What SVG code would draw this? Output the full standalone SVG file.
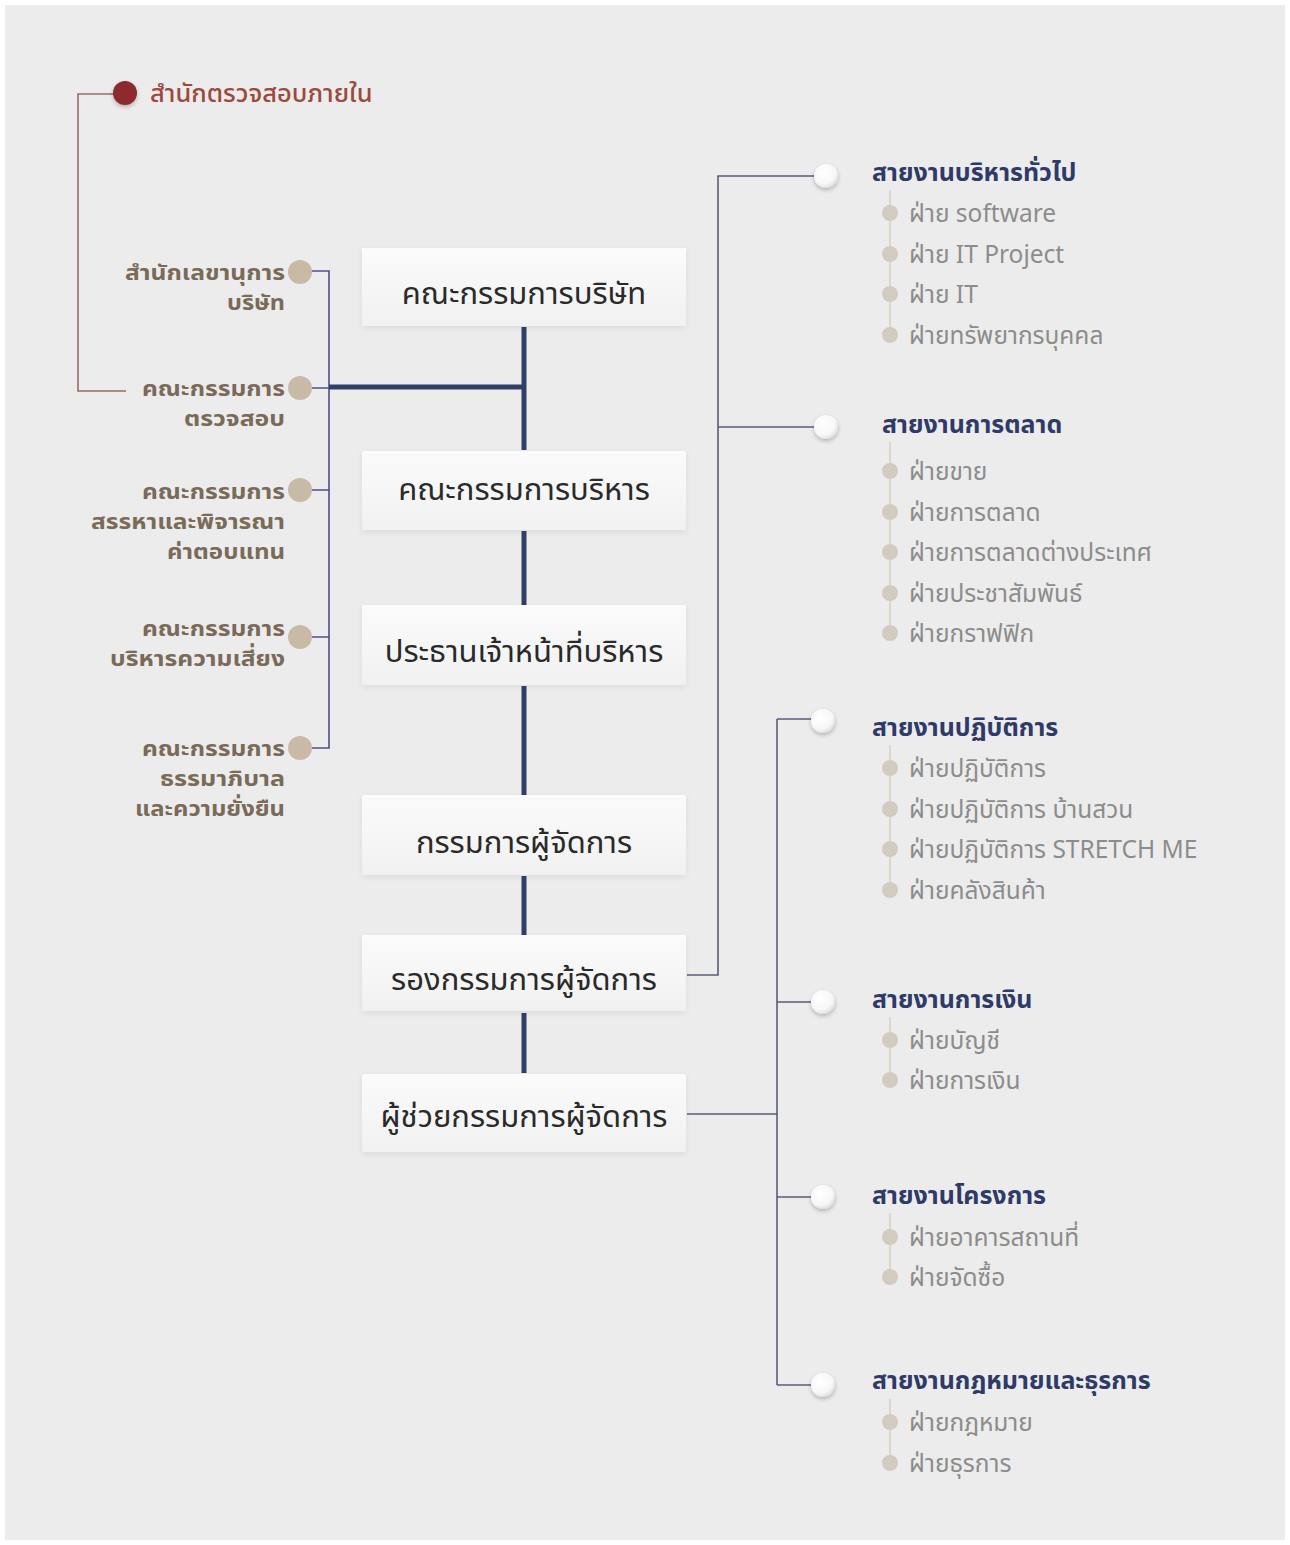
<svg xmlns="http://www.w3.org/2000/svg" width="1290" height="1545" viewBox="0 0 1290 1545">
<defs>
<linearGradient id="boxg" x1="0" y1="0" x2="0" y2="1">
<stop offset="0" stop-color="#fbfbfb"/>
<stop offset="1" stop-color="#f1f1f1"/>
</linearGradient>
<radialGradient id="wcirc" cx="0.4" cy="0.35" r="0.7">
<stop offset="0" stop-color="#ffffff"/>
<stop offset="0.7" stop-color="#f7f7f7"/>
<stop offset="1" stop-color="#d9d9d9"/>
</radialGradient>
<filter id="sh" x="-30%" y="-30%" width="160%" height="170%">
<feGaussianBlur in="SourceAlpha" stdDeviation="2"/>
<feOffset dx="0" dy="2" result="o"/>
<feComponentTransfer><feFuncA type="linear" slope="0.25"/></feComponentTransfer>
<feMerge><feMergeNode/><feMergeNode in="SourceGraphic"/></feMerge>
</filter>
<filter id="bsh" x="-5%" y="-10%" width="110%" height="125%">
<feGaussianBlur in="SourceAlpha" stdDeviation="3"/>
<feOffset dx="0" dy="2" result="o"/>
<feComponentTransfer><feFuncA type="linear" slope="0.08"/></feComponentTransfer>
<feMerge><feMergeNode/><feMergeNode in="SourceGraphic"/></feMerge>
</filter>
</defs>
<style>
text{font-family:"Noto Sans Thai","Noto Sans","DejaVu Sans",sans-serif;}
.box{fill:url(#boxg);filter:url(#bsh);}
.bt{font-size:31px;fill:#2a2a2a;text-anchor:middle;}
.spine{stroke:#2e4068;stroke-width:5;fill:none;}
.thin{stroke:#5a5c78;stroke-width:1.6;fill:none;}
.left{stroke:#4e4f88;stroke-width:1.6;fill:none;}
.red{stroke:#9b6a66;stroke-width:1.6;fill:none;}
.lt{font-size:22px;fill:#7a6a58;text-anchor:end;font-weight:700;}
.tan{fill:#c8baa7;}
.wc{fill:url(#wcirc);filter:url(#sh);}
.hd{font-size:25px;fill:#2f3a68;font-weight:700;}
.sub{font-size:24.5px;fill:#8c8c8c;}
.bul{fill:#d2ccc0;}
.vl{stroke:#ddd6ca;stroke-width:2;fill:none;}
</style>
<rect width="1290" height="1545" fill="#ffffff"/>
<rect x="5" y="5" width="1280" height="1535" fill="#ececec"/>

<g id="connectors">
<path class="red" d="M125 94 H78 V391 H126"/>
<path class="left" d="M312 271 H329 V748 H312 M312 388 H329 M312 490 H329 M312 637 H329"/>
<path class="spine" d="M329 387 H524"/>
<path class="spine" d="M524 327 V450 M524 531 V605 M524 686 V795 M524 876 V935 M524 1013 V1073"/>
<path class="thin" d="M687 975 H718 V176 H815 M718 427 H815"/>
<path class="thin" d="M687 1114 H777 M777 719 V1385 M777 719 H812 M777 1002 H812 M777 1197 H812 M777 1385 H812"/>
</g>

<g id="n-internal-audit">
<circle cx="125" cy="93" r="12" fill="#8c2a2f" filter="url(#sh)"/>
<text x="150" y="102" font-size="25.5" fill="#9c4a3f" font-weight="500">สำนักตรวจสอบภายใน</text>
</g>

<g id="n-secretary">
<circle class="tan" cx="300" cy="272" r="12"/>
<text class="lt" x="285" y="280" textLength="160" lengthAdjust="spacingAndGlyphs">สำนักเลขานุการ</text>
<text class="lt" x="285" y="310" textLength="58" lengthAdjust="spacingAndGlyphs">บริษัท</text>
</g>
<g id="n-audit-committee">
<circle class="tan" cx="300" cy="388" r="12"/>
<text class="lt" x="285" y="396" textLength="143" lengthAdjust="spacingAndGlyphs">คณะกรรมการ</text>
<text class="lt" x="285" y="426" textLength="101" lengthAdjust="spacingAndGlyphs">ตรวจสอบ</text>
</g>
<g id="n-nomination">
<circle class="tan" cx="300" cy="490" r="12"/>
<text class="lt" x="285" y="499" textLength="143" lengthAdjust="spacingAndGlyphs">คณะกรรมการ</text>
<text class="lt" x="285" y="529" textLength="194" lengthAdjust="spacingAndGlyphs">สรรหาและพิจารณา</text>
<text class="lt" x="285" y="559" textLength="118" lengthAdjust="spacingAndGlyphs">ค่าตอบแทน</text>
</g>
<g id="n-risk">
<circle class="tan" cx="300" cy="637" r="12"/>
<text class="lt" x="285" y="636" textLength="143" lengthAdjust="spacingAndGlyphs">คณะกรรมการ</text>
<text class="lt" x="285" y="666" textLength="175" lengthAdjust="spacingAndGlyphs">บริหารความเสี่ยง</text>
</g>
<g id="n-governance">
<circle class="tan" cx="300" cy="748" r="12"/>
<text class="lt" x="285" y="756" textLength="143" lengthAdjust="spacingAndGlyphs">คณะกรรมการ</text>
<text class="lt" x="285" y="786" textLength="125" lengthAdjust="spacingAndGlyphs">ธรรมาภิบาล</text>
<text class="lt" x="285" y="816" textLength="150" lengthAdjust="spacingAndGlyphs">และความยั่งยืน</text>
</g>

<g id="n-board">
<rect class="box" x="362" y="248" width="324" height="78"/>
<text class="bt" x="524" y="304">คณะกรรมการบริษัท</text>
</g>
<g id="n-exec-committee">
<rect class="box" x="362" y="451" width="324" height="79"/>
<text class="bt" x="524" y="500">คณะกรรมการบริหาร</text>
</g>
<g id="n-ceo">
<rect class="box" x="362" y="605" width="324" height="80"/>
<text class="bt" x="524" y="662">ประธานเจ้าหน้าที่บริหาร</text>
</g>
<g id="n-md">
<rect class="box" x="362" y="795" width="324" height="80"/>
<text class="bt" x="524" y="853">กรรมการผู้จัดการ</text>
</g>
<g id="n-deputy-md">
<rect class="box" x="362" y="935" width="324" height="76"/>
<text class="bt" x="524" y="990">รองกรรมการผู้จัดการ</text>
</g>
<g id="n-assistant-md">
<rect class="box" x="362" y="1074" width="324" height="78"/>
<text class="bt" x="524" y="1127">ผู้ช่วยกรรมการผู้จัดการ</text>
</g>

<g id="n-general-admin">
<circle class="wc" cx="826" cy="176" r="12"/>
<text class="hd" x="872" y="181">สายงานบริหารทั่วไป</text>
<path class="vl" d="M890 190 V335"/>
<circle class="bul" cx="890" cy="213" r="8"/><text class="sub" x="909" y="222">ฝ่าย software</text>
<circle class="bul" cx="890" cy="254" r="8"/><text class="sub" x="909" y="263">ฝ่าย IT Project</text>
<circle class="bul" cx="890" cy="294" r="8"/><text class="sub" x="909" y="303">ฝ่าย IT</text>
<circle class="bul" cx="890" cy="335" r="8"/><text class="sub" x="909" y="344">ฝ่ายทรัพยากรบุคคล</text>
</g>

<g id="n-marketing">
<circle class="wc" cx="826" cy="427" r="12"/>
<text class="hd" x="882" y="433">สายงานการตลาด</text>
<path class="vl" d="M890 442 V633"/>
<circle class="bul" cx="890" cy="471" r="8"/><text class="sub" x="909" y="480">ฝ่ายขาย</text>
<circle class="bul" cx="890" cy="512" r="8"/><text class="sub" x="909" y="521">ฝ่ายการตลาด</text>
<circle class="bul" cx="890" cy="552" r="8"/><text class="sub" x="909" y="561">ฝ่ายการตลาดต่างประเทศ</text>
<circle class="bul" cx="890" cy="593" r="8"/><text class="sub" x="909" y="602">ฝ่ายประชาสัมพันธ์</text>
<circle class="bul" cx="890" cy="633" r="8"/><text class="sub" x="909" y="642">ฝ่ายกราฟฟิก</text>
</g>

<g id="n-operations">
<circle class="wc" cx="823" cy="721" r="12"/>
<text class="hd" x="872" y="736">สายงานปฏิบัติการ</text>
<path class="vl" d="M890 745 V890"/>
<circle class="bul" cx="890" cy="768" r="8"/><text class="sub" x="909" y="777">ฝ่ายปฏิบัติการ</text>
<circle class="bul" cx="890" cy="809" r="8"/><text class="sub" x="909" y="818">ฝ่ายปฏิบัติการ บ้านสวน</text>
<circle class="bul" cx="890" cy="849" r="8"/><text class="sub" x="909" y="858">ฝ่ายปฏิบัติการ STRETCH ME</text>
<circle class="bul" cx="890" cy="890" r="8"/><text class="sub" x="909" y="899">ฝ่ายคลังสินค้า</text>
</g>

<g id="n-finance">
<circle class="wc" cx="823" cy="1002" r="12"/>
<text class="hd" x="872" y="1008">สายงานการเงิน</text>
<path class="vl" d="M890 1017 V1080"/>
<circle class="bul" cx="890" cy="1040" r="8"/><text class="sub" x="909" y="1049">ฝ่ายบัญชี</text>
<circle class="bul" cx="890" cy="1080" r="8"/><text class="sub" x="909" y="1089">ฝ่ายการเงิน</text>
</g>

<g id="n-projects">
<circle class="wc" cx="823" cy="1197" r="12"/>
<text class="hd" x="872" y="1204">สายงานโครงการ</text>
<path class="vl" d="M890 1213 V1277"/>
<circle class="bul" cx="890" cy="1237" r="8"/><text class="sub" x="909" y="1246">ฝ่ายอาคารสถานที่</text>
<circle class="bul" cx="890" cy="1277" r="8"/><text class="sub" x="909" y="1286">ฝ่ายจัดซื้อ</text>
</g>

<g id="n-legal">
<circle class="wc" cx="823" cy="1385" r="12"/>
<text class="hd" x="872" y="1389">สายงานกฎหมายและธุรการ</text>
<path class="vl" d="M890 1399 V1463"/>
<circle class="bul" cx="890" cy="1422" r="8"/><text class="sub" x="909" y="1431">ฝ่ายกฎหมาย</text>
<circle class="bul" cx="890" cy="1463" r="8"/><text class="sub" x="909" y="1472">ฝ่ายธุรการ</text>
</g>
</svg>
